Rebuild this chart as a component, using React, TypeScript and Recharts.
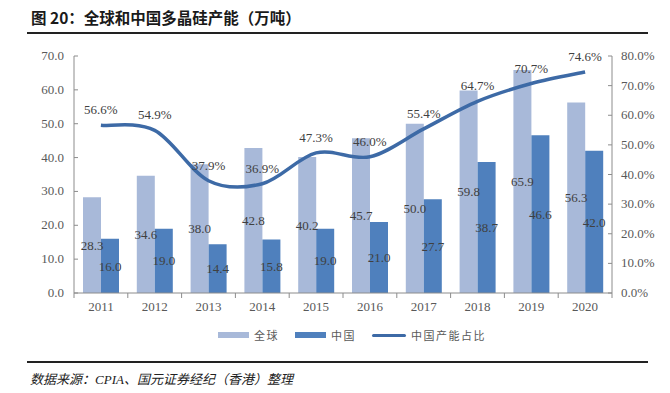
import { ComposedChart, Bar, Line, XAxis, YAxis, LabelList } from 'recharts';

// chart values
const years = ['2011', '2012', '2013', '2014', '2015', '2016', '2017', '2018', '2019', '2020'];
const globalCap = [28.3, 34.6, 38.0, 42.8, 40.2, 45.7, 50.0, 59.8, 65.9, 56.3];
const chinaCap = [16.0, 19.0, 14.4, 15.8, 19.0, 21.0, 27.7, 38.7, 46.6, 42.0];
const chinaShare = [56.6, 54.9, 37.9, 36.9, 47.3, 46.0, 55.4, 64.7, 70.7, 74.6];
const leftTicks = [0, 10, 20, 30, 40, 50, 60, 70];
const rightTicks = [0, 10, 20, 30, 40, 50, 60, 70, 80];

const data = years.map((year, i) => ({
  year,
  global: globalCap[i],
  china: chinaCap[i],
  share: chinaShare[i],
}));

const LIGHT = '#a8b9d9';
const DARK = '#4f80bd';
const LINE = '#3d6aa6';
const TEXT = '#595959';
const AXIS = '#8c8c8c';
const SERIF = '"Liberation Serif", "Times New Roman", serif';
const CJK = '"Noto Sans CJK SC", sans-serif';

const PLOT_LEFT = 74;
const PLOT_RIGHT = 612;
const PLOT_TOP = 56;
const PLOT_BOTTOM = 293;

// Excel-like smoothed line (Catmull-Rom through the points)
const smoothCurve = (context: any) => {
  let pts: number[][] = [];
  return {
    areaStart() {},
    areaEnd() {},
    lineStart() {
      pts = [];
    },
    point(x: number, y: number) {
      pts.push([+x, +y]);
    },
    lineEnd() {
      if (!pts.length) return;
      context.moveTo(pts[0][0], pts[0][1]);
      for (let i = 0; i < pts.length - 1; i++) {
        const p0 = pts[Math.max(i - 1, 0)];
        const p1 = pts[i];
        const p2 = pts[i + 1];
        const p3 = pts[Math.min(i + 2, pts.length - 1)];
        context.bezierCurveTo(
          p1[0] + (p2[0] - p0[0]) / 6,
          p1[1] + (p2[1] - p0[1]) / 6,
          p2[0] - (p3[0] - p1[0]) / 6,
          p2[1] - (p3[1] - p1[1]) / 6,
          p2[0],
          p2[1]
        );
      }
    },
  };
};

const YearTick = ({ x, payload, index }: any) => {
  const half = (PLOT_RIGHT - PLOT_LEFT) / years.length / 2;
  return (
    <g>
      <line x1={x - half} x2={x - half} y1={PLOT_BOTTOM} y2={PLOT_BOTTOM + 5} stroke={AXIS} />
      {index === years.length - 1 && (
        <line x1={x + half} x2={x + half} y1={PLOT_BOTTOM} y2={PLOT_BOTTOM + 5} stroke={AXIS} />
      )}
      <text x={x} y={PLOT_BOTTOM + 18} textAnchor="middle" fontSize={13} fontFamily={SERIF} fill={TEXT}>
        {payload.value}
      </text>
    </g>
  );
};

const LeftTick = ({ x, y, payload }: any) => (
  <g>
    <line x1={PLOT_LEFT} x2={PLOT_LEFT + 4} y1={y} y2={y} stroke={AXIS} />
    <text x={x} y={y + 4} textAnchor="end" fontSize={13} fontFamily={SERIF} fill={TEXT}>
      {Number(payload.value).toFixed(1)}
    </text>
  </g>
);

const RightTick = ({ x, y, payload }: any) => (
  <g>
    <line x1={PLOT_RIGHT - 4} x2={PLOT_RIGHT} y1={y} y2={y} stroke={AXIS} />
    <text x={x} y={y + 4} textAnchor="start" fontSize={13} fontFamily={SERIF} fill={TEXT}>
      {Number(payload.value).toFixed(1)}%
    </text>
  </g>
);

const LegendItem = ({ color, label, line }: { color: string; label: string; line?: boolean }) => (
  <div style={{ display: 'flex', alignItems: 'center', marginRight: 16 }}>
    <div
      style={{
        width: line ? 34 : 31,
        height: line ? 3 : 6,
        borderRadius: line ? 2 : 0,
        background: color,
        marginRight: 5,
      }}
    />
    <span style={{ fontFamily: CJK, fontSize: 11, color: TEXT, letterSpacing: 1.5 }}>{label}</span>
  </div>
);

export default function App() {
  return (
    <div style={{ position: 'relative', width: 670, height: 393, background: '#fff', overflow: 'hidden' }}>
      <style>{'body{margin:0}'}</style>
      <div
        style={{
          position: 'absolute',
          left: 31,
          top: 6,
          fontFamily: CJK,
          fontWeight: 700,
          fontSize: 15.5,
          color: '#1a1a1a',
          whiteSpace: 'nowrap',
        }}
      >
        图 20：全球和中国多晶硅产能（万吨）
      </div>
      <div style={{ position: 'absolute', left: 27, top: 32, width: 621, height: 2, background: '#222' }} />

      <div style={{ position: 'absolute', left: 0, top: 0 }}>
        <ComposedChart
          width={670}
          height={393}
          data={data}
          margin={{ top: PLOT_TOP, right: 0, bottom: 393 - PLOT_BOTTOM - 30, left: PLOT_LEFT - 60 }}
          barGap={0}
          barSize={18}
        >
          <XAxis
            dataKey="year"
            stroke={AXIS}
            tickLine={false}
            height={30}
            tick={<YearTick />}
            interval={0}
          />
          <YAxis
            yAxisId="left"
            domain={[0, 70]}
            ticks={leftTicks}
            width={60}
            stroke={AXIS}
            tickLine={false}
            tickSize={0}
            tickMargin={10}
            tick={<LeftTick />}
            interval={0}
          />
          <YAxis
            yAxisId="right"
            orientation="right"
            domain={[0, 80]}
            ticks={rightTicks}
            width={58}
            stroke={AXIS}
            tickLine={false}
            tickSize={0}
            tickMargin={9}
            tick={<RightTick />}
            interval={0}
          />
          <Bar yAxisId="left" dataKey="global" name="全球" fill={LIGHT} isAnimationActive={false}>
            <LabelList
              dataKey="global"
              position="center"
              formatter={(v: any) => Number(v).toFixed(1)}
              style={{ fontFamily: SERIF, fontSize: 13, fill: '#404040' }}
            />
          </Bar>
          <Bar yAxisId="left" dataKey="china" name="中国" fill={DARK} isAnimationActive={false}>
            <LabelList
              dataKey="china"
              position="center"
              formatter={(v: any) => Number(v).toFixed(1)}
              style={{ fontFamily: SERIF, fontSize: 13, fill: '#404040' }}
            />
          </Bar>
          <Line
            yAxisId="right"
            dataKey="share"
            name="中国产能占比"
            type={smoothCurve as any}
            stroke={LINE}
            strokeWidth={3.5}
            dot={false}
            isAnimationActive={false}
          >
            <LabelList
              dataKey="share"
              position="top"
              offset={11}
              formatter={(v: any) => `${Number(v).toFixed(1)}%`}
              style={{ fontFamily: SERIF, fontSize: 13, fill: '#404040' }}
            />
          </Line>
        </ComposedChart>
      </div>

      <div style={{ position: 'absolute', left: 218, top: 327, display: 'flex', alignItems: 'center' }}>
        <LegendItem color={LIGHT} label="全球" />
        <LegendItem color={DARK} label="中国" />
        <LegendItem color={LINE} label="中国产能占比" line />
      </div>

      <div style={{ position: 'absolute', left: 27, top: 361, width: 621, height: 2, background: '#222' }} />
      <div
        style={{
          position: 'absolute',
          left: 30,
          top: 369,
          fontFamily: CJK,
          fontStyle: 'italic',
          fontSize: 13,
          color: '#222',
          whiteSpace: 'nowrap',
        }}
      >
        数据来源：<span style={{ fontFamily: SERIF }}>CPIA</span>、国元证券经纪（香港）整理
      </div>
    </div>
  );
}
